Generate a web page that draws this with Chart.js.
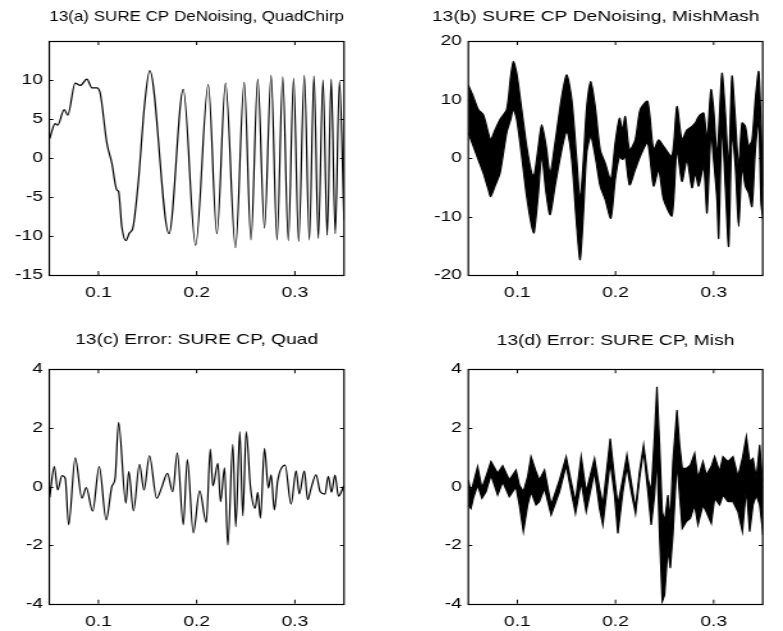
<!DOCTYPE html>
<html>
<head>
<meta charset="utf-8">
<script src="https://cdn.jsdelivr.net/npm/chart.js@4.4.1/dist/chart.umd.min.js"></script>
<style>
  html, body { margin: 0; padding: 0; background: #fff; width: 783px; height: 631px; overflow: hidden; }
  .panel { position: absolute; transform-origin: 0 0; }
  canvas { display: block; }
</style>
</head>
<body>
<div class="panel" id="pA"><canvas id="cA"></canvas></div>
<div class="panel" id="pB"><canvas id="cB"></canvas></div>
<div class="panel" id="pC"><canvas id="cC"></canvas></div>
<div class="panel" id="pD"><canvas id="cD"></canvas></div>
<script>
// ---- data -------------------------------------------------------------
const xTickVals = [0.1, 0.2, 0.3];
const xTickLabels = ['0.1', '0.2', '0.3'];

const yTicksQuad = [-15, -10, -5, 0, 5, 10];
const yTicksMish = [-20, -10, 0, 10, 20];
const yTicksErr = [-4, -2, 0, 2, 4];

// 13(a): denoised QuadChirp (extrema of the reconstruction)
const quadX = [0.0504, 0.056, 0.0585, 0.0652, 0.0687, 0.0764, 0.0815, 0.0883, 0.0934, 0.0984,
  0.1018, 0.1086, 0.1137, 0.1187, 0.1205, 0.1238, 0.1279, 0.1316, 0.135, 0.1408,
  0.1468, 0.1522, 0.1718, 0.1864, 0.1989, 0.2118, 0.2206, 0.2294, 0.2395, 0.2484,
  0.2553, 0.2622, 0.269, 0.2758, 0.2818, 0.2876, 0.2933, 0.2987, 0.3038, 0.3096,
  0.3147, 0.3194, 0.3238, 0.3286, 0.3329, 0.337, 0.3411, 0.3454, 0.35];
const quadY = [2.5, 4.4, 4.2, 6.2, 5.5, 9.6, 9.3, 10.1, 9.0, 9.0,
  8.3, 1.9, -0.7, -4.1, -4.3, -8.8, -10.6, -9.6, -9.0, -2.8,
  6.6, 11.2, -9.7, 8.8, -11.2, 9.4, -9.7, 9.6, -11.5, 9.7,
  -10.5, 10.1, -9.0, 10.6, -10.5, 10.4, -10.6, 10.2, -10.7, 10.6,
  -10.5, 10.5, -10.3, 10.0, -9.9, 10.1, -9.7, 9.8, -8.0];

// 13(b): denoised MishMash, upper and lower edge of the oscillating band
const mishX = [0.0500, 0.0551, 0.0602, 0.0653, 0.0704, 0.0728, 0.0772, 0.0823, 0.0891, 0.0932,
  0.0959, 0.0993, 0.1044, 0.1095, 0.1146, 0.1170, 0.1214, 0.1248, 0.1293, 0.1333,
  0.1384, 0.1452, 0.1503, 0.1554, 0.1605, 0.1639, 0.1673, 0.1707, 0.1748, 0.1793,
  0.1844, 0.1895, 0.1952, 0.1997, 0.2041, 0.2071, 0.2099, 0.2143, 0.2201, 0.2252,
  0.2327, 0.2388, 0.2439, 0.2490, 0.2575, 0.2626, 0.2677, 0.2728, 0.2779, 0.2813,
  0.2847, 0.2898, 0.2932, 0.2973, 0.3000, 0.3034, 0.3051, 0.3085, 0.3119, 0.3153,
  0.3187, 0.3221, 0.3255, 0.3289, 0.3323, 0.3357, 0.3391, 0.3425, 0.3459, 0.3483, 0.3503];
const mishUpper = [12.5, 10.5, 8.3, 7.4, 4.3, 3.1, 4.8, 6.6, 8.3, 14.0,
  16.5, 14.5, 8.3, 2.0, -2.6, -3.1, 2.0, 5.7, 2.0, -2.6,
  2.6, 10.5, 14.2, 10.0, -0.3, -7.1, -0.3, 8.8, 13.1, 8.8,
  1.4, -0.9, -3.7, 2.6, 6.8, 4.8, 7.1, 1.4, 3.1, 8.3,
  9.7, 1.4, 3.1, 2.0, 0.3, 8.8, 3.1, 4.8, 5.4, 6.0,
  7.1, 7.7, 3.1, 11.7, 8.3, 0.3, 4.3, 14.5, 7.7, -1.4,
  14.0, 6.6, -1.4, 6.0, 5.4, 2.0, 3.1, 10.0, 14.8, 5.4, -4.8];
const mishLower = [4.3, 2.0, -0.3, -2.6, -5.4, -6.6, -4.8, -2.6, 4.3, 6.6,
  8.3, 6.6, 0.3, -6.6, -11.7, -12.8, -6.0, 0.3, -6.0, -9.7,
  -4.8, 1.4, 4.6, -0.3, -11.7, -17.4, -9.4, 0.9, 3.7, 0.3,
  -4.8, -7.1, -10.3, -3.7, 0.3, -0.3, 0.3, -4.6, -2.0, 0.3,
  2.6, -4.8, -2.0, -7.1, -9.9, 1.4, -4.0, -0.3, -5.1, -2.6,
  -4.8, -1.4, -9.4, 4.3, -0.3, -7.1, -13.7, 5.4, -4.8, -15.1,
  4.3, -1.4, -11.7, -1.4, -4.8, -6.0, -8.3, 1.4, 6.6, -7.7, -10.5];

// 13(c): reconstruction error, QuadChirp
const errQuadX = [0.0504, 0.0551, 0.0585, 0.0629, 0.0662, 0.0697, 0.0764, 0.0832, 0.0876, 0.0941,
  0.1008, 0.1079, 0.1137, 0.117, 0.1205, 0.1279, 0.1309, 0.1357, 0.1418, 0.1464,
  0.1519, 0.1593, 0.1644, 0.1702, 0.1756, 0.1803, 0.1864, 0.1905, 0.1966, 0.203,
  0.2098, 0.2139, 0.2165, 0.2216, 0.2243, 0.2284, 0.2317, 0.2368, 0.2398, 0.2439,
  0.247, 0.2504, 0.2548, 0.2595, 0.2622, 0.2649, 0.269, 0.273, 0.2758, 0.2791,
  0.2825, 0.29, 0.2961, 0.3012, 0.3045, 0.3096, 0.313, 0.3164, 0.3215, 0.3258,
  0.3306, 0.334, 0.3373, 0.3408, 0.3444, 0.35];
const errQuadY = [-0.37, 0.68, -0.12, 0.37, 0.28, -1.31, 0.98, -0.40, -0.04, -0.84,
  0.68, -1.14, 0.0, 0.28, 2.19, -0.57, 0.51, -0.83, 0.76, -0.12,
  1.05, -0.40, -0.03, 0.45, -0.18, 1.15, -1.31, 0.92, -1.58, -0.15,
  -1.23, 1.28, 0.02, 0.79, -0.52, 0.64, -2.0, 1.44, -1.37, 1.87,
  -1.0, 1.87, -0.03, -0.74, -0.2, -1.08, 1.3, -0.06, 0.4, -0.8,
  0.2, 0.73, -0.6, 0.53, -0.25, 0.53, -0.45, -0.07, 0.4, -0.18,
  -0.26, 0.35, -0.2, 0.39, -0.33, 0.04];

// 13(d): reconstruction error, MishMash (upper / lower edge of the band)
const errMishX = [0.0500, 0.0527, 0.0551, 0.0595, 0.0639, 0.0680, 0.0731, 0.0799, 0.0850, 0.0918,
  0.0986, 0.1020, 0.1061, 0.1105, 0.1139, 0.1190, 0.1224, 0.1276, 0.1344, 0.1429,
  0.1497, 0.1548, 0.1592, 0.1650, 0.1701, 0.1786, 0.1837, 0.1871, 0.1946, 0.1990,
  0.2024, 0.2075, 0.2116, 0.2160, 0.2204, 0.2245, 0.2286, 0.2330, 0.2364, 0.2398,
  0.2422, 0.2449, 0.2476, 0.2500, 0.2534, 0.2558, 0.2585, 0.2626, 0.2653, 0.2680,
  0.2721, 0.2762, 0.2806, 0.2840, 0.2891, 0.2925, 0.2976, 0.3010, 0.3061, 0.3095,
  0.3146, 0.3197, 0.3248, 0.3293, 0.3333, 0.3367, 0.3401, 0.3435, 0.3469, 0.3493, 0.3503];
const errMishUpper = [0.22, -0.18, 0.11, 0.68, -0.06, 0.34, 0.85, 0.45, 0.71, 0.22,
  0.56, 0.05, -0.18, 0.34, 1.02, 0.51, 0.22, 0.56, -0.63, 0.22,
  1.02, 0.16, -0.52, 1.02, -0.18, 0.96, -0.06, -0.63, 1.64, 0.28,
  -0.63, 0.28, 1.08, 0.16, -0.75, 0.51, 1.42, 0.28, -0.18, 1.76,
  3.4, 1.42, -0.86, -1.20, -0.29, -1.20, 0.85, 2.61, 1.42, 0.62,
  0.62, 0.73, 1.13, 0.28, 0.85, 0.39, 0.68, 1.02, 0.51, 1.02,
  0.85, 1.02, 0.34, 0.96, 1.70, 0.85, 0.96, 0.28, 1.42, 0.39, 0.16];
const errMishLower = [-0.63, -0.75, -0.40, 0.05, -0.40, -0.18, 0.39, -0.29, 0.16, -0.35,
  -0.01, -0.63, -1.54, -0.63, -0.18, -0.63, -0.52, -0.06, -0.97, -0.18,
  0.73, -0.18, -0.92, 0.16, -0.86, 0.51, -0.75, -1.31, 0.85, -0.29,
  -1.60, -0.18, 0.68, -0.18, -0.92, 0.28, 1.25, -0.18, -1.31, -0.29,
  1.08, -1.65, -3.93, -3.70, -2.11, -2.79, -1.65, 0.85, -0.29, -1.43,
  -1.20, -1.09, -0.63, -1.31, -0.63, -0.86, -1.26, -0.40, -0.63, -0.29,
  -0.52, -0.52, -0.86, -1.54, -0.06, -1.54, -0.63, -0.29, -0.63, -1.31, -1.65];

// ---- drawing ----------------------------------------------------------
const STRETCH = 1.28;              // wide, MATLAB-like lettering: each panel is stretched horizontally
const FONT_SIZE = 15;
Chart.defaults.font.family = '"Liberation Sans", Arial, Helvetica, sans-serif';
Chart.defaults.color = '#000';

const pts = (xs, ys) => xs.map((x, i) => ({ x, y: ys[i] }));

// Box around the axes with inward tick marks on all four sides
const boxTicks = {
  id: 'boxTicks',
  afterDatasetsDraw(chart) {
    const { ctx, chartArea: a, scales: { x, y } } = chart;
    const hLen = 4 / STRETCH, vLen = 4;
    ctx.save();
    ctx.strokeStyle = '#000';
    ctx.lineWidth = 1;
    ctx.beginPath();
    for (const t of x.ticks) {
      const px = x.getPixelForValue(t.value);
      if (px <= a.left + 1 || px >= a.right - 1) continue;
      ctx.moveTo(px, a.bottom); ctx.lineTo(px, a.bottom - vLen);
      ctx.moveTo(px, a.top); ctx.lineTo(px, a.top + vLen);
    }
    for (const t of y.ticks) {
      const py = Math.round(y.getPixelForValue(t.value)) + 0.5;
      if (py <= a.top + 1 || py >= a.bottom - 1) continue;
      ctx.moveTo(a.left, py); ctx.lineTo(a.left + hLen, py);
      ctx.moveTo(a.right, py); ctx.lineTo(a.right - hLen, py);
    }
    ctx.stroke();
    ctx.lineWidth = 1.2;
    ctx.strokeRect(a.left, Math.round(a.top) + 0.5, a.right - a.left, Math.round(a.bottom) - Math.round(a.top));
    ctx.restore();
  }
};

// g: panel geometry in page pixels (canvas box, axes box, title centre)
function makePanel(pid, id, g, cfg) {
  const wrap = document.getElementById(pid);
  const canvas = document.getElementById(id);
  const W = g.width / STRETCH, H = g.height;
  wrap.style.left = g.pageX + 'px';
  wrap.style.top = g.pageY + 'px';
  wrap.style.transform = 'scaleX(' + STRETCH + ')';
  canvas.width = Math.round(W); canvas.height = H;
  canvas.style.width = Math.round(W) + 'px'; canvas.style.height = H + 'px';

  const left = g.left / STRETCH, right = g.right / STRETCH;
  const padLeft = g.titleX == null ? 0 : Math.max(0, 2 * g.titleX / STRETCH - right);
  const yWidth = left - padLeft;
  const lh = FONT_SIZE * 1.2;
  const titleTop = g.titleY - lh / 2;

  return new Chart(canvas, {
    type: 'line',
    data: { datasets: cfg.datasets },
    options: {
      responsive: false,
      animation: false,
      events: [],
      layout: { padding: { left: padLeft, right: Math.round(W) - right, top: 0, bottom: 0 } },
      plugins: {
        legend: { display: false },
        tooltip: { enabled: false },
        title: {
          display: true,
          text: cfg.title,
          fullSize: g.titleX != null,
          color: '#000',
          font: { size: FONT_SIZE, weight: 'normal', lineHeight: 1.2 },
          padding: { top: titleTop, bottom: g.top - titleTop - lh }
        }
      },
      scales: {
        x: {
          type: 'linear', min: 0.05, max: 0.35,
          grid: { display: false, drawTicks: false, tickLength: 0 },
          border: { display: false },
          afterBuildTicks: s => { s.ticks = xTickVals.map(v => ({ value: v })); },
          afterFit: s => { s.height = H - g.bottom; },
          ticks: { padding: 9, maxRotation: 0, font: { size: FONT_SIZE },
                   callback: (v, i) => xTickLabels[i] }
        },
        y: {
          type: 'linear', min: cfg.yMin, max: cfg.yMax,
          grid: { display: false, drawTicks: false, tickLength: 0 },
          border: { display: false },
          afterBuildTicks: s => { s.ticks = cfg.yTicks.map(v => ({ value: v })); },
          afterFit: s => { s.width = yWidth; },
          ticks: { padding: 5, font: { size: FONT_SIZE }, callback: v => String(v) }
        }
      }
    },
    plugins: [boxTicks]
  });
}

const lineStyle = { borderColor: '#000', borderWidth: 1.2, pointRadius: 0, fill: false };
const bandStyle = { ...lineStyle, tension: 0.25 };

makePanel('pA', 'cA',
  { pageX: 0, pageY: 0, width: 390, height: 315, left: 49.3, right: 344, top: 41, bottom: 275, titleY: 17 },
  { title: '13(a) SURE CP DeNoising, QuadChirp', yMin: -15, yMax: 15, yTicks: yTicksQuad,
    datasets: [{ ...lineStyle, data: pts(quadX, quadY), cubicInterpolationMode: 'monotone' }] });

makePanel('pB', 'cB',
  { pageX: 390, pageY: 0, width: 393, height: 315, left: 78.3, right: 372.7, top: 41, bottom: 275, titleY: 17, titleX: 205.7 },
  { title: '13(b) SURE CP DeNoising, MishMash', yMin: -20, yMax: 20, yTicks: yTicksMish,
    datasets: [
      { ...bandStyle, data: pts(mishX, mishUpper) },
      { ...bandStyle, data: pts(mishX, mishLower), fill: '-1', backgroundColor: '#000' }
    ] });

makePanel('pC', 'cC',
  { pageX: 0, pageY: 320, width: 390, height: 311, left: 49.3, right: 344, top: 49.3, bottom: 283.7, titleY: 20 },
  { title: '13(c) Error: SURE CP, Quad', yMin: -4, yMax: 4, yTicks: yTicksErr,
    datasets: [{ ...lineStyle, data: pts(errQuadX, errQuadY), cubicInterpolationMode: 'monotone' }] });

makePanel('pD', 'cD',
  { pageX: 390, pageY: 320, width: 393, height: 311, left: 78.3, right: 372.7, top: 49.3, bottom: 283.7, titleY: 21 },
  { title: '13(d) Error: SURE CP, Mish', yMin: -4, yMax: 4, yTicks: yTicksErr,
    datasets: [
      { ...lineStyle, data: pts(errMishX, errMishUpper) },
      { ...lineStyle, data: pts(errMishX, errMishLower), fill: '-1', backgroundColor: '#000' }
    ] });
</script>
</body>
</html>
